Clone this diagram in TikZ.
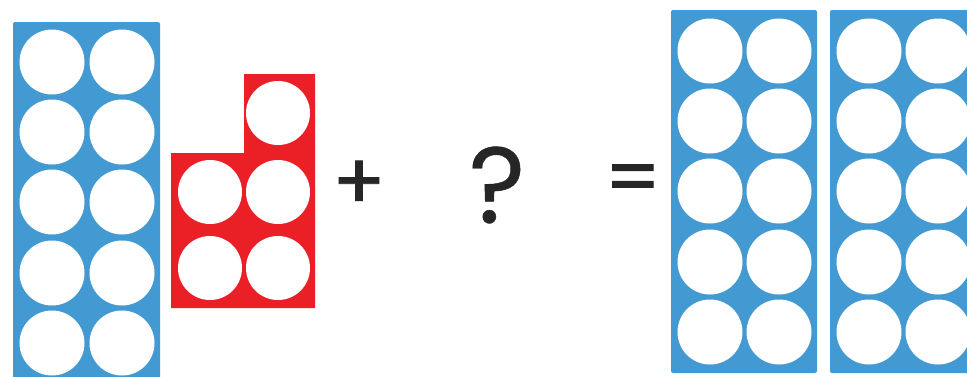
\documentclass[tikz,border=0pt]{standalone}
\usepackage{fontspec}
\setmainfont{Poppins}
\newfontface\symfont{Poppins}[FakeBold=1.2]
\newfontface\qfont{Poppins}[FakeBold=0.4]
\definecolor{frameblue}{HTML}{4399D2}
\definecolor{framered}{HTML}{EB2027}
\definecolor{symb}{HTML}{262626}
\begin{document}
\begin{tikzpicture}[x=1pt,y=-1pt,
  bluebox/.style={fill=frameblue,rounded corners=2pt},
  dot/.style={circle,fill=white,draw=none,minimum size=65pt,inner sep=0pt},
  symbol/.style={text=symb,inner sep=0pt,font=\symfont\fontsize{78}{78}\selectfont}]
\useasboundingbox (0,0) rectangle (967,376);
% left ten frame
\fill[bluebox] (13,22) rectangle (160,380);
\foreach \r/\y in {1/62,2/132,3/202,4/273,5/343}{
  \node[dot] (La\r) at (52,\y) {};
  \node[dot] (Lb\r) at (122,\y) {};
}
% red five
\fill[framered] (171,308) -- (171,153) -- (244,153) -- (244,74) -- (315,74) -- (315,308) -- cycle;
\node[dot,minimum size=64pt] (R1) at (278,113) {};
\node[dot,minimum size=64pt] (R2) at (210,192) {};
\node[dot,minimum size=64pt] (R3) at (278,192) {};
\node[dot,minimum size=64pt] (R4) at (210,268) {};
\node[dot,minimum size=64pt] (R5) at (278,268) {};
% symbols
\node[symbol] (plus) at (359,185) {+};
\node[symbol,font=\qfont\fontsize{108}{108}\selectfont] (q) at (497,185) {?};
\node[symbol] (eq) at (633,184.5) {=};
% right ten frames
\fill[bluebox] (671,10) rectangle (817,373);
\fill[bluebox] (830,10) rectangle (980,373);
\foreach \r/\y in {1/51,2/121,3/191,4/262,5/332}{
  \node[dot] (Aa\r) at (710,\y) {};
  \node[dot] (Ab\r) at (779,\y) {};
  \node[dot] (Ba\r) at (869,\y) {};
  \node[dot] (Bb\r) at (938,\y) {};
}
\end{tikzpicture}
\end{document}
